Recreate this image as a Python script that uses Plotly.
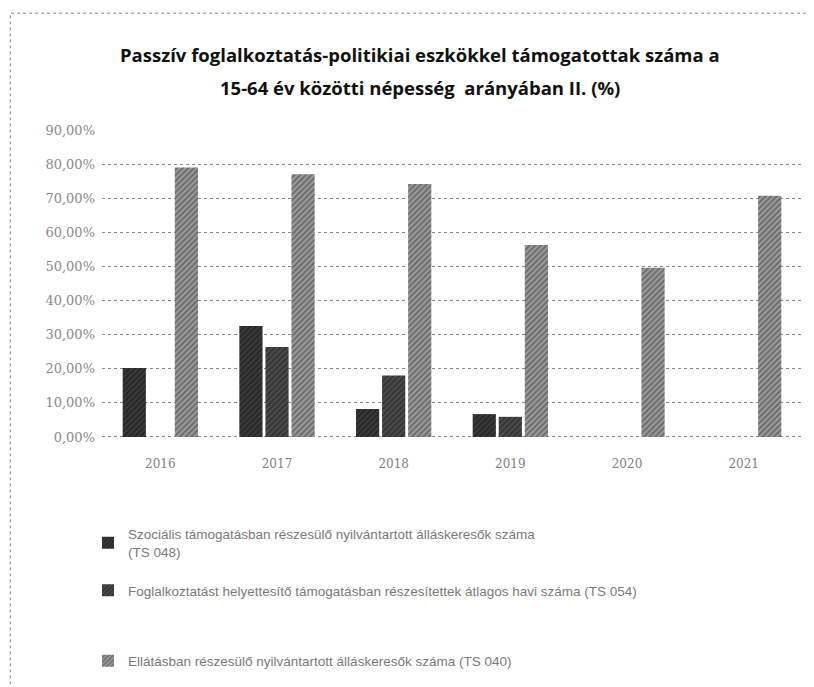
import plotly.graph_objects as go

# Adatok (arány a 15-64 éves népességhez)
years = ["2016", "2017", "2018", "2019", "2020", "2021"]

szocialis = [0.202, 0.325, 0.082, 0.067, 0.0, 0.0]
fht = [0.0, 0.264, 0.18, 0.059, 0.0, 0.0]
ellatas = [0.79, 0.77, 0.742, 0.563, 0.496, 0.707]

names = [
    "Szociális támogatásban részesülő nyilvántartott álláskeresők száma<br>(TS 048)",
    "Foglalkoztatást helyettesítő támogatásban részesítettek átlagos havi száma (TS 054)",
    "Ellátásban részesülő nyilvántartott álláskeresők száma (TS 040)",
]

fig = go.Figure()

fig.add_trace(go.Bar(
    x=years, y=szocialis, name=names[0], legend="legend",
    marker=dict(color="#3a3a3a",
                pattern=dict(shape="/", fgcolor="#0d0d0d", size=4, solidity=0.45),
                line=dict(width=0))
))
fig.add_trace(go.Bar(
    x=years, y=fht, name=names[1], legend="legend2",
    marker=dict(color="#4a4a4a",
                pattern=dict(shape="/", fgcolor="#161616", size=4, solidity=0.4),
                line=dict(width=0))
))
fig.add_trace(go.Bar(
    x=years, y=ellatas, name=names[2], legend="legend3",
    marker=dict(color="#9a9a9a",
                pattern=dict(shape="/", fgcolor="#333333", size=4, solidity=0.45),
                line=dict(width=0))
))

legend_style = dict(
    x=-0.02, xanchor="left", yanchor="top",
    font=dict(family="Liberation Sans", size=13.5, color="#7a7a7a"),
    bgcolor="rgba(0,0,0,0)", itemwidth=30,
)

fig.update_layout(
    width=814,
    height=687,
    template="plotly_white",
    paper_bgcolor="white",
    plot_bgcolor="white",
    barmode="group",
    bargap=0.33,
    bargroupgap=0.11,
    separators=",.",
    margin=dict(l=94, r=20, t=122, b=256),
    font=dict(family="DejaVu Sans", color="#808080"),
    legend=dict(y=-0.258, **legend_style),
    legend2=dict(y=-0.44, **legend_style),
    legend3=dict(y=-0.668, **legend_style),
    xaxis=dict(
        showgrid=False, showline=False, ticks="",
        ticklabelstandoff=16,
        tickfont=dict(family="DejaVu Serif", size=12, color="#808080"),
        range=[-0.5, 5.5],
    ),
    yaxis=dict(
        range=[-0.006, 0.9],
        tick0=0,
        dtick=0.1,
        tickformat=".2%",
        showgrid=True,
        gridcolor="#8a8a8a",
        griddash="dot",
        gridwidth=1,
        zeroline=False,
        showline=False,
        ticks="",
        ticklabelstandoff=6,
        tickfont=dict(family="DejaVu Serif", size=13, color="#8a8a8a"),
    ),
    showlegend=True,
)

# cím két sorban
fig.add_annotation(
    text="<b>Passzív foglalkoztatás-politikiai eszkökkel támogatottak száma a</b>",
    xref="paper", yref="paper", x=0.454, y=1.244, yanchor="middle", showarrow=False,
    font=dict(family="Open Sans", size=18.5, color="#111111"),
)
fig.add_annotation(
    text="<b>15-64 év közötti népesség  arányában II. (%)</b>",
    xref="paper", yref="paper", x=0.454, y=1.137, yanchor="middle", showarrow=False,
    font=dict(family="Open Sans", size=18.5, color="#111111"),
)

# pontozott keret
fig.add_shape(
    type="rect", xref="paper", yref="paper",
    x0=-0.131, x1=1.03, y0=-0.85, y1=1.378,
    line=dict(color="#888888", width=1, dash="dot"),
)

fig.write_html("out.html")
